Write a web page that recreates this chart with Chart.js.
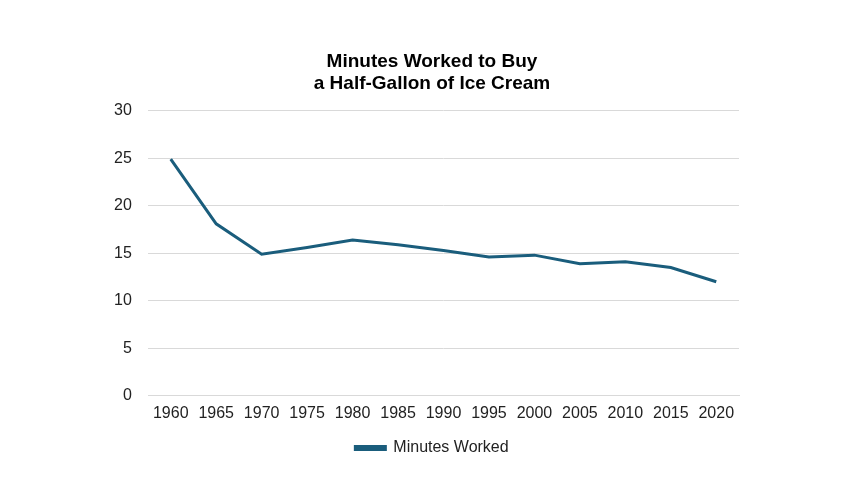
<!DOCTYPE html>
<html>
<head>
<meta charset="utf-8">
<script src="https://cdn.jsdelivr.net/npm/chart.js@4"></script>
<style>
  html, body { margin: 0; padding: 0; background: #ffffff; }
  #wrap { width: 864px; height: 504px; }
</style>
</head>
<body>
<div id="wrap"><canvas id="myChart" width="864" height="504"></canvas></div>
<script>
// values
var years = ["1960", "1965", "1970", "1975", "1980", "1985", "1990",
             "1995", "2000", "2005", "2010", "2015", "2020"];
var minutesWorked = [24.9, 18.1, 14.9, 15.6, 16.4, 15.9, 15.3,
                     14.6, 14.8, 13.9, 14.1, 13.5, 12.0];
var yTicks = [0, 5, 10, 15, 20, 25, 30];

var lineColor = "#1a5d7c";
var fontFamily = "'Liberation Sans', Arial, sans-serif";

new Chart("myChart", {
    type: "line",
    data: {
        labels: years,
        datasets: [{
            label: "Minutes Worked",
            data: minutesWorked,
            borderColor: lineColor,
            backgroundColor: lineColor,
            borderWidth: 3,
            pointRadius: 0,
            tension: 0
        }]
    },
    options: {
        responsive: false,
        animation: false,
        layout: {
            padding: { left: 125, right: 125, top: 51, bottom: 38 }
        },
        plugins: {
            title: {
                display: true,
                text: ["Minutes Worked to Buy", "a Half-Gallon of Ice Cream"],
                color: "#000000",
                font: { family: fontFamily, size: 19, weight: "bold", lineHeight: 1.15 },
                padding: { top: 0, bottom: 16 }
            },
            legend: {
                position: "bottom",
                labels: {
                    color: "#222222",
                    font: { family: fontFamily, size: 16 },
                    boxWidth: 30,
                    boxHeight: 3,
                    padding: 17
                }
            },
            tooltip: { enabled: false }
        },
        scales: {
            x: {
                offset: true,
                grid: { display: false },
                border: { display: true, color: "#d9d9d9", width: 1 },
                ticks: {
                    color: "#222222",
                    font: { family: fontFamily, size: 16 },
                    maxRotation: 0,
                    autoSkip: false,
                    padding: 0
                }
            },
            y: {
                min: 0,
                max: 30,
                afterBuildTicks: function (axis) {
                    axis.ticks = yTicks.map(function (v) { return { value: v }; });
                },
                afterFit: function (axis) { axis.width = 23; },
                grid: { color: "#d9d9d9", drawTicks: false },
                border: { display: false },
                ticks: {
                    // mirrored so the labels are not clipped to the narrow axis box
                    mirror: true,
                    crossAlign: "far",
                    color: "#222222",
                    font: { family: fontFamily, size: 16 },
                    padding: -34
                }
            }
        }
    }
});
</script>
</body>
</html>
